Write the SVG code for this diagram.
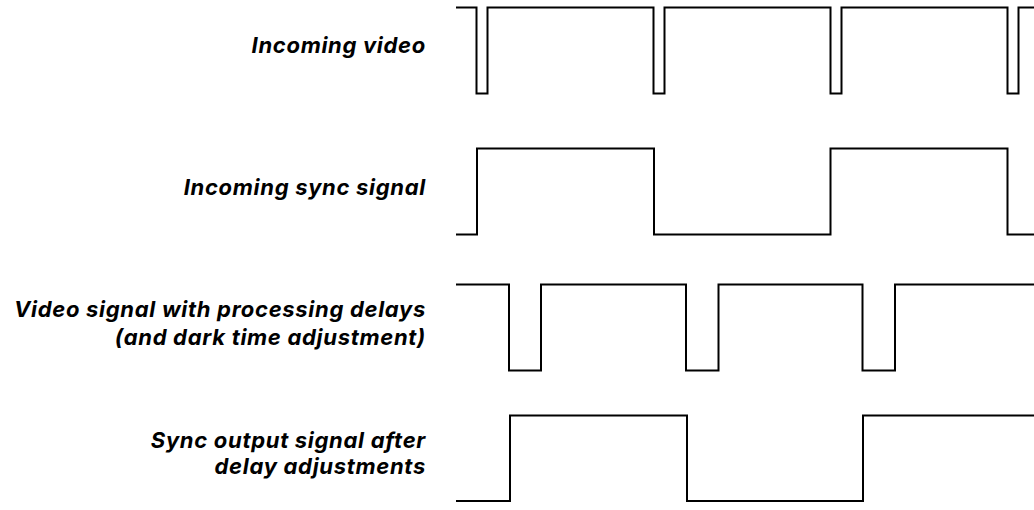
<svg xmlns="http://www.w3.org/2000/svg" width="1034" height="510" viewBox="0 0 1034 510">
<style>
.lbl{font-family:Inter,"Liberation Sans",sans-serif;font-weight:700;font-style:italic;font-size:22px;letter-spacing:0.7px;fill:#000;text-anchor:end}
.sig{fill:none;stroke:#000;stroke-width:2;stroke-linejoin:miter}
</style>
<rect width="1034" height="510" fill="#fff"/>
<g id="label-incoming-video"><text class="lbl" x="426" y="53">Incoming video</text></g>
<g id="label-incoming-sync"><text class="lbl" x="426" y="194.5">Incoming sync signal</text></g>
<g id="label-video-delay"><text class="lbl" x="426" y="317">Video signal with processing delays</text><text class="lbl" x="426" y="345">(and dark time adjustment)</text></g>
<g id="label-sync-output"><text class="lbl" x="426" y="447.5">Sync output signal after</text><text class="lbl" x="426" y="474">delay adjustments</text></g>
<g id="signals">
<path id="incoming-video" class="sig" d="M456,7.5H476.5V93.5H487.5V7.5H653.5V93.5H664.5V7.5H830.5V93.5H841.5V7.5H1007.5V93.5H1018.5V7.5H1034"/>
<path id="incoming-sync" class="sig" d="M456,234.5H477V148.5H654V234.5H830.5V148.5H1007.5V234.5H1034"/>
<path id="video-delay" class="sig" d="M456,284.5H509V370.5H541V284.5H686V370.5H718.5V284.5H862.5V370.5H895V284.5H1034"/>
<path id="sync-output" class="sig" d="M456,501H510V415.5H687V501H863V415.5H1034"/>
</g>
</svg>
